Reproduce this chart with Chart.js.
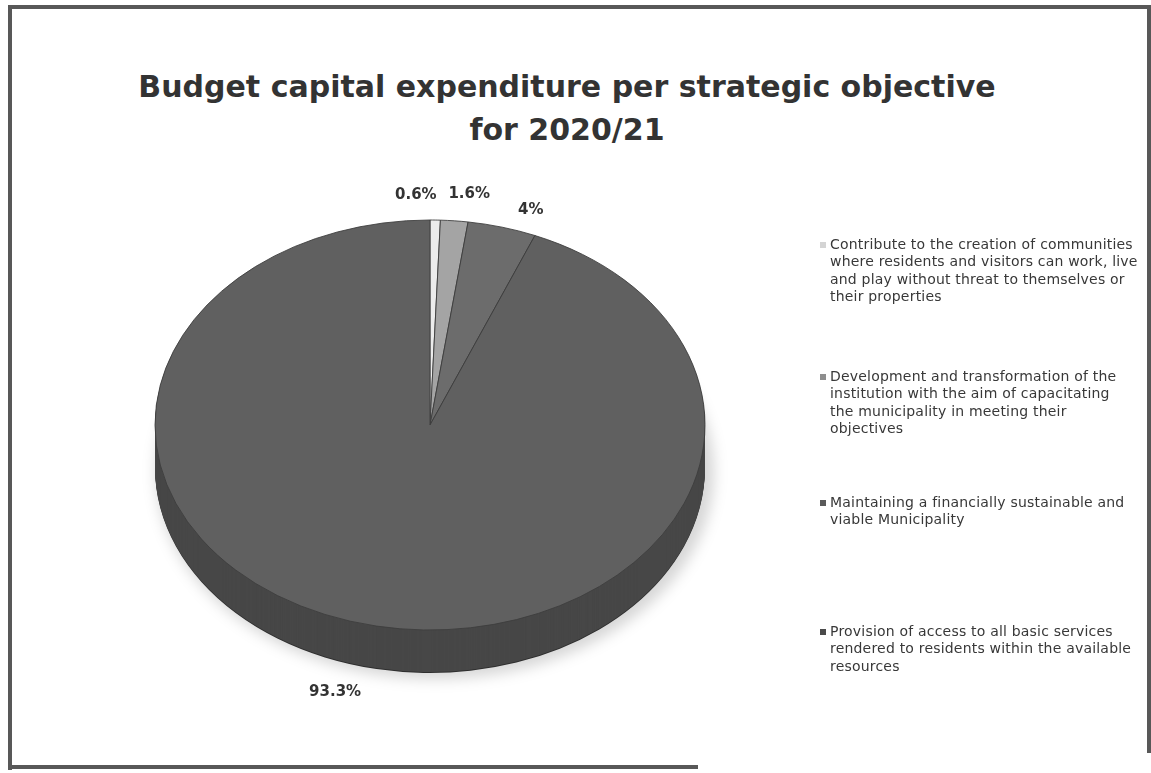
<!DOCTYPE html>
<html>
<head>
<meta charset="utf-8">
<title>Budget capital expenditure per strategic objective for 2020/21</title>
<script src="https://cdn.jsdelivr.net/npm/chart.js@4.4.1/dist/chart.umd.min.js"></script>
<style>
  html, body { margin: 0; padding: 0; background: #fff; }
  #page { position: relative; width: 1151px; height: 773px; overflow: hidden; background: #fff;
          font-family: "DejaVu Sans", Verdana, sans-serif; }
  .frame { position: absolute; background: #585858; }
  .title { position: absolute; left: 0; width: 1134px; text-align: center; font-weight: bold;
           font-size: 30px; line-height: 35px; color: #333; white-space: nowrap; }
  #pie { position: absolute; left: 0; top: 0; }
  .item { position: absolute; left: 818px; white-space: nowrap; font-size: 14px; letter-spacing: 0.2px;
          line-height: 17.3px; color: #383838; }
  .item .sw { position: absolute; left: 2px; top: 6px; width: 6px; height: 6px; }
  .item .txt { position: absolute; left: 12px; top: 0; }
</style>
</head>
<body>
<div id="page">
  <div class="frame" style="left:8px;top:5px;width:1143px;height:4px"></div>
  <div class="frame" style="left:8px;top:5px;width:4px;height:765px"></div>
  <div class="frame" style="left:1147px;top:5px;width:4px;height:748px"></div>
  <div class="frame" style="left:8px;top:765px;width:690px;height:4px"></div>

  <div class="title" style="top:69px">Budget capital expenditure per strategic objective</div>
  <div class="title" style="top:112px">for 2020/21</div>

  <canvas id="pie" width="1151" height="773"></canvas>
  <div id="legend"></div>
</div>

<script>
// Strategic objectives and their share of the capital budget (%)
const objectives = [
  ["Contribute to the creation of communities", "where residents and visitors can work, live", "and play without threat to themselves or", "their properties"],
  ["Development and transformation of the", "institution with the aim of capacitating", "the municipality in meeting their", "objectives"],
  ["Maintaining a financially sustainable and", "viable Municipality"],
  ["Provision of access to all basic services", "rendered to residents within the available", "resources"]
];
const shares = [0.6, 1.6, 4, 93.3];
const shareLabels = ["0.6%", "1.6%", "4%", "93.3%"];

// Styling
const topColors  = ["#ececec", "#a4a4a4", "#6c6c6c", "#606060"];
const sideColors = ["#bcbcbc", "#7a7a7a", "#4e4e4e", "#474747"];
const legendColors = ["#d4d4d4", "#8e8e8e", "#5a5a5a", "#4a4a4a"];
const legendTops = [236, 368, 494, 623];
const labelNudge = [[-20, 0], [12, -2], [20, 7], [-35, 0]];
const PIE = { cx: 430, cy: 425, r: 275, ry: 205, depth: 42 };

// Legend
const legend = document.getElementById('legend');
objectives.forEach((lines, i) => {
  const d = document.createElement('div');
  d.className = 'item';
  d.style.top = legendTops[i] + 'px';
  const sw = document.createElement('span');
  sw.className = 'sw';
  sw.style.background = legendColors[i];
  const t = document.createElement('span');
  t.className = 'txt';
  t.innerHTML = lines.join('<br>');
  d.appendChild(sw); d.appendChild(t);
  legend.appendChild(d);
});

// Tilts the pie into an ellipse and builds the side wall beneath it
const tiltPlugin = {
  id: 'tilt',
  beforeDatasetsDraw(chart) {
    const meta = chart.getDatasetMeta(0);
    const ctx = chart.ctx;
    const a0 = meta.data[0];
    const cx = a0.x, cy = a0.y, r = a0.outerRadius;
    const k = PIE.ry / r;
    ctx.save();
    // soft shadow under the disc
    ctx.save();
    ctx.filter = 'blur(7px)';
    ctx.fillStyle = 'rgba(0,0,0,0.16)';
    ctx.beginPath();
    ctx.ellipse(PIE.cx + 5, PIE.cy + PIE.depth + 5, r + 4, PIE.ry + 2, 0, 0, Math.PI * 2);
    ctx.fill();
    ctx.restore();

    ctx.translate(PIE.cx, PIE.cy);
    ctx.scale(1, k);
    ctx.translate(-cx, -cy);
    for (let d = PIE.depth + 1; d >= 1; d--) {
      ctx.save();
      ctx.translate(0, d / k);
      meta.data.forEach((el, i) => {
        const o = el.options;
        const c = d === PIE.depth + 1 ? '#2e2e2e' : sideColors[i];
        el.options = Object.assign({}, o, { backgroundColor: c, borderColor: c, borderWidth: 0 });
        el.draw(ctx);
        el.options = o;
      });
      ctx.restore();
    }
  },
  afterDatasetsDraw(chart) {
    chart.ctx.restore();
  },
  afterDraw(chart) {
    const meta = chart.getDatasetMeta(0);
    const ctx = chart.ctx;
    const k = PIE.ry / meta.data[0].outerRadius;
    ctx.save();
    ctx.font = 'bold 15px "DejaVu Sans", sans-serif';
    ctx.fillStyle = '#333';
    ctx.textAlign = 'center';
    ctx.textBaseline = 'middle';
    meta.data.forEach((el, i) => {
      const a = (el.startAngle + el.endAngle) / 2;
      const f = 1.12;
      let x = PIE.cx + el.outerRadius * f * Math.cos(a);
      let y = PIE.cy + el.outerRadius * f * Math.sin(a) * k;
      if (Math.sin(a) > 0) y += PIE.depth;
      ctx.fillText(shareLabels[i], x + labelNudge[i][0], y + labelNudge[i][1]);
    });
    ctx.restore();
  }
};

new Chart(document.getElementById('pie'), {
  type: 'pie',
  data: {
    labels: objectives.map(l => l.join(' ')),
    datasets: [{
      data: shares,
      backgroundColor: topColors,
      borderColor: '#3d3d3d',
      borderWidth: 1,
      radius: PIE.r,
      clip: false
    }]
  },
  options: {
    responsive: false,
    animation: false,
    events: [],
    layout: { padding: { left: 0, right: 1151 - 2 * PIE.cx, top: 0, bottom: 0 } },
    plugins: {
      legend: { display: false },
      title: { display: false },
      tooltip: { enabled: false }
    }
  },
  plugins: [tiltPlugin]
});
</script>
</body>
</html>
